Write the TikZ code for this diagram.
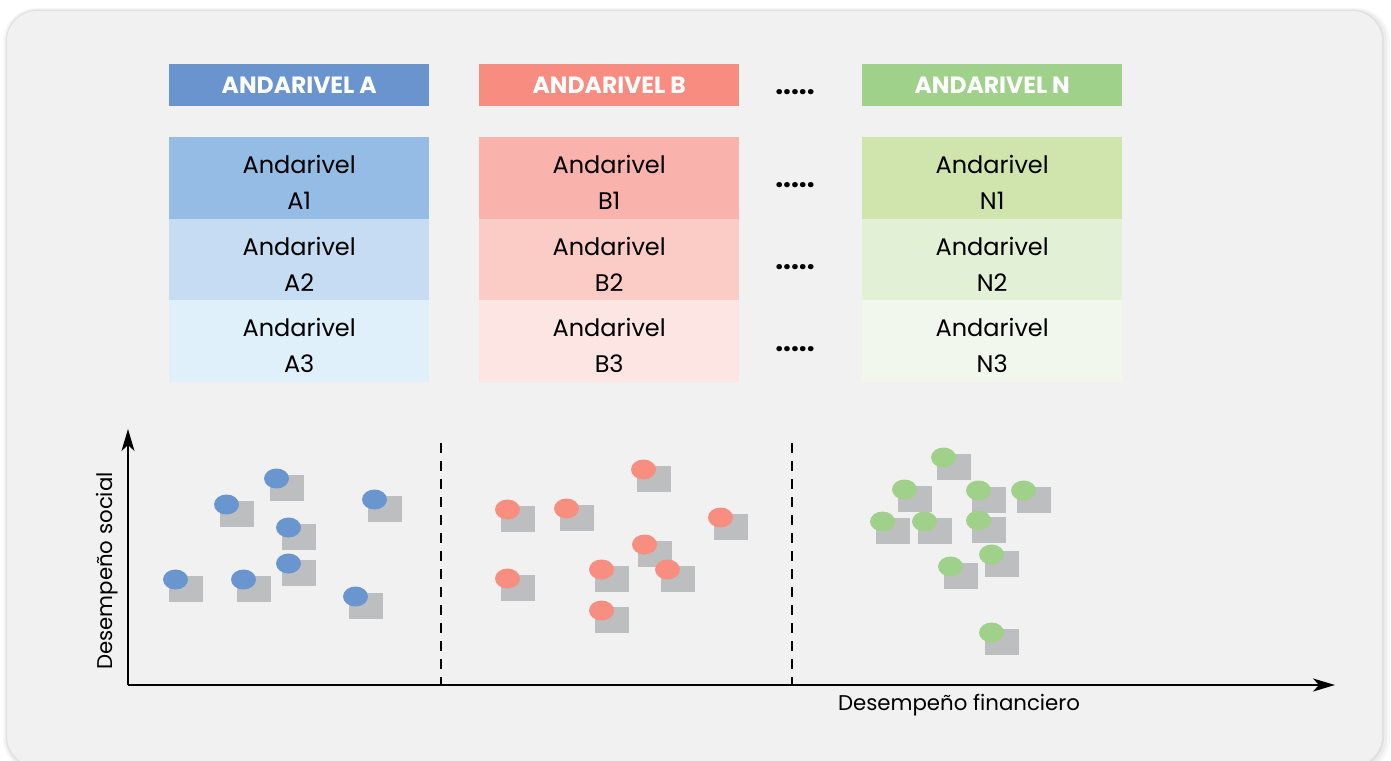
\documentclass[tikz,border=0pt]{standalone}
\usepackage{fontspec}
\setmainfont{Poppins}
\usetikzlibrary{arrows.meta}
\definecolor{bgc}{HTML}{F1F1F1}
\definecolor{hdA}{HTML}{6994CD}
\definecolor{sA1}{HTML}{94BCE4}
\definecolor{sA2}{HTML}{C6DCF2}
\definecolor{sA3}{HTML}{DFF0FA}
\definecolor{hdB}{HTML}{F88C80}
\definecolor{sB1}{HTML}{F9B3AC}
\definecolor{sB2}{HTML}{FBCBC6}
\definecolor{sB3}{HTML}{FDE5E3}
\definecolor{hdN}{HTML}{A0D18A}
\definecolor{sN1}{HTML}{CFE5AD}
\definecolor{sN2}{HTML}{E2F0D5}
\definecolor{sN3}{HTML}{F1F7ED}
\definecolor{sqc}{HTML}{BDBEC0}
\definecolor{dotB}{HTML}{6A96CF}
\definecolor{dotR}{HTML}{F88E80}
\definecolor{dotG}{HTML}{A0D18A}
\newcommand\scsq[2]{\fill[sqc] (#1,#2) rectangle ++(34,26);}
\newcommand\scel[3]{\fill[#1] (#2+6.5,#3+3.5) ellipse [x radius=12.5pt, y radius=10pt];}
\newcommand\tp{\rule{0pt}{28pt}}
\begin{document}
\begin{tikzpicture}[x=1pt,y=-1pt,
  head/.style={fill=#1, minimum width=260pt, minimum height=42pt, inner sep=0pt,
    text=white, anchor=north west, font=\bfseries\fontsize{23.5}{25}\selectfont},
  subbox/.style={fill=#1, minimum width=260pt, minimum height=81.5pt, inner sep=0pt,
    anchor=north west, align=center, font=\fontsize{24}{36}\selectfont},
  dotrow/.style={inner sep=0pt, font=\bfseries\fontsize{28}{28}\selectfont},
  axis/.style={line width=2pt, -{Stealth[length=22pt, width=13pt, inset=6pt]}},
  sep/.style={line width=2pt, dash pattern=on 10pt off 8pt},
  lbl/.style={inner sep=0pt, font=\fontsize{21.3}{26}\selectfont}]
\useasboundingbox (0,0) rectangle (1391,760);
\fill[white] (0,0) rectangle (1391,760);
% shadow
\fill[black, opacity=0.03, rounded corners=34pt] (3,8) rectangle (1390,772);
\fill[black, opacity=0.04, rounded corners=32pt] (5,9) rectangle (1387,770);
\fill[black, opacity=0.05, rounded corners=31pt] (6,10) rectangle (1384,768);
\fill[bgc, rounded corners=30pt] (7,11) rectangle (1382,766);
% headers
\node[head=hdA] (hA) at (169,64) {ANDARIVEL A};
\node[head=hdB] (hB) at (479,64) {ANDARIVEL B};
\node[head=hdN] (hN) at (862,64) {ANDARIVEL N};
% sub boxes
\node[subbox=sA1] (a1) at (169,137) {\tp Andarivel\\A1};
\node[subbox=sA2] (a2) at (169,218.5) {\tp Andarivel\\A2};
\node[subbox=sA3] (a3) at (169,300) {\tp Andarivel\\A3};
\node[subbox=sB1] (b1) at (479,137) {\tp Andarivel\\B1};
\node[subbox=sB2] (b2) at (479,218.5) {\tp Andarivel\\B2};
\node[subbox=sB3] (b3) at (479,300) {\tp Andarivel\\B3};
\node[subbox=sN1] (n1) at (862,137) {\tp Andarivel\\N1};
\node[subbox=sN2] (n2) at (862,218.5) {\tp Andarivel\\N2};
\node[subbox=sN3] (n3) at (862,300) {\tp Andarivel\\N3};
% dots
\node[dotrow] (d0) at (795,92) {.....};
\node[dotrow] (d1) at (795,185) {.....};
\node[dotrow] (d2) at (795,267) {.....};
\node[dotrow] (d3) at (795,349) {.....};
% axes
\coordinate (O) at (128,685);
\coordinate (Ytip) at (128,429);
\coordinate (Xtip) at (1335,685);
\draw[axis] (O) -- (Ytip);
\draw[axis] (O) -- (Xtip);
\coordinate (s1t) at (441,443);
\coordinate (s1b) at (441,685);
\coordinate (s2t) at (792,443);
\coordinate (s2b) at (792,685);
\draw[sep] (s1t) -- (s1b);
\draw[sep] (s2t) -- (s2b);
\node[lbl, rotate=90] (ylab) at (107,571) {Desempeño social};
\node[lbl] (xlab) at (959,705) {Desempeño financiero};
% scatter squares
\scsq{270}{475}\scsq{220}{501}\scsq{368}{496}\scsq{282}{524}
\scsq{282}{560}\scsq{169}{576}\scsq{237}{576}\scsq{349}{593}
\scsq{637}{466}\scsq{501}{506}\scsq{560}{505}\scsq{714}{514}\scsq{638}{541}
\scsq{501}{575}\scsq{595}{566}\scsq{661}{566}\scsq{595}{607}
\scsq{937}{454}\scsq{898}{486}\scsq{972}{487}\scsq{1017}{487}\scsq{876}{518}
\scsq{918}{518}\scsq{972}{517}\scsq{985}{551}\scsq{944}{563}\scsq{985}{629}
% ellipses
\scel{dotB}{270}{475}\scel{dotB}{220}{501}\scel{dotB}{368}{496}\scel{dotB}{282}{524}
\scel{dotB}{282}{560}\scel{dotB}{169}{576}\scel{dotB}{237}{576}\scel{dotB}{349}{593}
\scel{dotR}{637}{466}\scel{dotR}{501}{506}\scel{dotR}{560}{505}\scel{dotR}{714}{514}\scel{dotR}{638}{541}
\scel{dotR}{501}{575}\scel{dotR}{595}{566}\scel{dotR}{661}{566}\scel{dotR}{595}{607}
\scel{dotG}{937}{454}\scel{dotG}{898}{486}\scel{dotG}{972}{487}\scel{dotG}{1017}{487}\scel{dotG}{876}{518}
\scel{dotG}{918}{518}\scel{dotG}{972}{517}\scel{dotG}{985}{551}\scel{dotG}{944}{563}\scel{dotG}{985}{629}
\end{tikzpicture}
\end{document}
